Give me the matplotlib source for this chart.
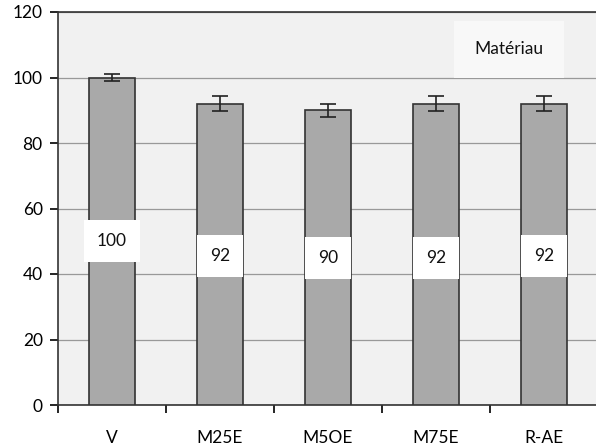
import matplotlib
matplotlib.use("Agg")
import matplotlib.pyplot as plt
import numpy as np

categories = ["V", "M25E", "M5OE", "M75E", "R-AE"]
values = [100, 92, 90, 92, 92]
errors = [1, 2.3, 2.0, 2.3, 2.3]
label_y = [50, 45.5, 45, 45, 45.5]
yticks = [0, 20, 40, 60, 80, 100, 120]

plt.rcParams['font.family'] = ['Lato', 'DejaVu Sans']
FS = 12.5

fig = plt.figure(figsize=(5.96, 4.45), dpi=100)
ax = fig.add_axes([58/596, 40/445, 540/596, 393/445])
ax.set_facecolor('#f1f1f1')
x = np.arange(len(categories))
ax.bar(x, values, width=0.42, color='#a9a9a9', edgecolor='#333333', linewidth=1.2, zorder=3)
ax.errorbar(x, values, yerr=errors, fmt='none', ecolor='#222222', elinewidth=1.2, capsize=6, capthick=1.2, zorder=4)
for xi, v, ly in zip(x, values, label_y):
    ax.text(xi, ly, str(v), ha='center', va='center', fontsize=FS, color='#111111', zorder=5,
            bbox=dict(boxstyle='square,pad=0.75', facecolor='white', edgecolor='none'))
ax.set_xlim(-0.5, 4.5)
ax.set_ylim(0, 120)
ax.set_yticks(yticks)
ax.set_yticklabels([str(t) for t in yticks], fontsize=FS)
ax.yaxis.grid(True, color='#999999', linewidth=0.9, zorder=0)
ax.set_xticks(np.arange(-0.5, 4.5, 1.0))
ax.set_xticklabels([])
ax.set_xticks(x, minor=True)
ax.set_xticklabels(categories, minor=True, fontsize=FS)
ax.tick_params(axis='x', which='minor', length=0, pad=18)
ax.tick_params(axis='x', which='major', length=6, direction='out', width=1.2)
ax.tick_params(axis='y', length=6, direction='out', width=1.2, pad=5)
for s in ['right']:
    ax.spines[s].set_visible(False)
for s in ['left', 'bottom', 'top']:
    ax.spines[s].set_color('#333333')
    ax.spines[s].set_linewidth(1.2)
ax.text(0.835, 0.905, "Matériau", transform=ax.transAxes, ha='center', va='center', fontsize=FS, color='#111111', zorder=5,
        bbox=dict(boxstyle='square,pad=1.2', facecolor='#f8f8f8', edgecolor='none'))
fig.savefig("out.png", dpi=100)
